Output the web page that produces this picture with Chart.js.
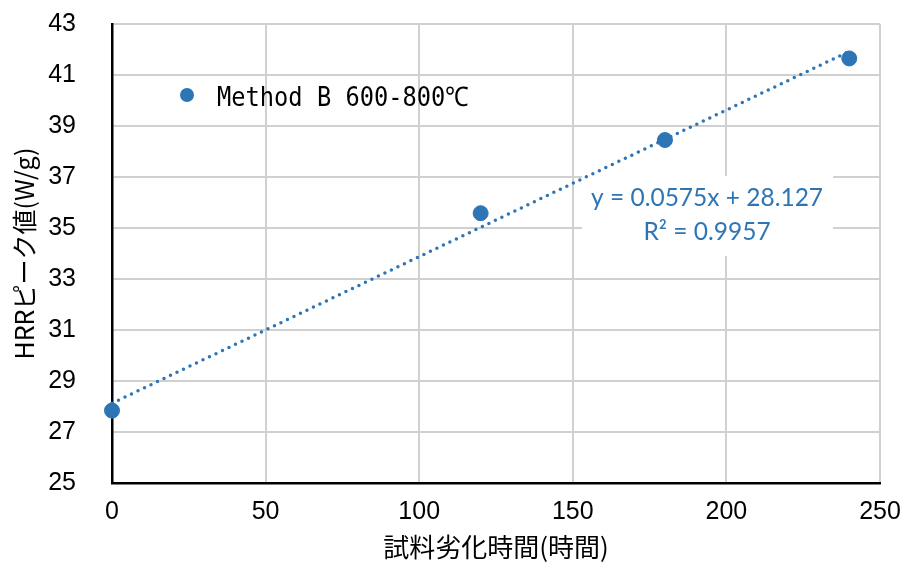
<!DOCTYPE html>
<html>
<head>
<meta charset="utf-8">
<script src="https://cdn.jsdelivr.net/npm/chart.js@4/dist/chart.umd.min.js"></script>
<style>
  html, body { margin: 0; padding: 0; background: #fff; }
  #wrap { width: 904px; height: 563px; }
</style>
</head>
<body>
<div id="wrap"><canvas id="hrrChart" width="904" height="563"></canvas></div>
<script>
// 劣化時間ごとのHRRピーク値
const hours = [0, 120, 180, 240];
const hrrPeak = [27.84, 35.58, 38.45, 41.65];
const seriesLabel = 'Method B 600-800℃';

// 近似直線 (線形)
const slope = 0.0575;
const intercept = 28.127;
const rSquared = 0.9957;

const xTicks = [0, 50, 100, 150, 200, 250];
const yTicks = [25, 27, 29, 31, 33, 35, 37, 39, 41, 43];

const blue = '#2E75B6';
const tickFont = { family: '"Liberation Sans Narrow", "Liberation Sans", sans-serif', size: 25 };
const jpFamily = '"Noto Sans CJK JP", sans-serif';

const trendData = [hours[0], hours[hours.length - 1]].map(function(x) {
    return { x: x, y: slope * x + intercept };
});

// 数式ラベルの位置 (データ座標)
const eqAt = { x: 192.4, y: 35.55 };

// 凡例と数式ラベルをプロット内に描く
const overlay = {
    id: 'overlay',
    beforeDatasetsDraw: function(chart) {
        // 数式ラベルの白い背景 (近似直線はこの上に描かれる)
        const cx = chart.scales.x.getPixelForValue(eqAt.x);
        const cy = chart.scales.y.getPixelForValue(eqAt.y);
        chart.ctx.save();
        chart.ctx.fillStyle = '#fff';
        chart.ctx.fillRect(cx - 121, cy - 38, 251, 80);
        chart.ctx.restore();
    },
    afterDatasetsDraw: function(chart) {
        const ctx = chart.ctx;
        ctx.save();

        // 凡例 (縦長の等幅文字に見せるため横方向を詰める)
        ctx.fillStyle = blue;
        ctx.beginPath();
        ctx.arc(187, 95, 7, 0, Math.PI * 2);
        ctx.fill();
        ctx.fillStyle = '#000';
        ctx.font = '27px "DejaVu Sans Mono", "Liberation Mono", monospace';
        ctx.textBaseline = 'middle';
        ctx.textAlign = 'left';
        const w = ctx.measureText(seriesLabel).width;
        ctx.save();
        ctx.translate(217, 99);
        ctx.scale(252 / w, 1);
        ctx.fillText(seriesLabel, 0, 0);
        ctx.restore();

        // 近似式
        const cx = chart.scales.x.getPixelForValue(eqAt.x);
        const cy = chart.scales.y.getPixelForValue(eqAt.y);
        ctx.fillStyle = blue;
        ctx.font = '24.5px Lato, "Open Sans", sans-serif';
        ctx.textAlign = 'center';
        ctx.fillText('y = ' + slope + 'x + ' + intercept, cx + 4, cy - 16);
        ctx.fillText('R² = ' + rSquared, cx + 4, cy + 18);
        ctx.restore();
    }
};

const ctx = document.getElementById('hrrChart').getContext('2d');
new Chart(ctx, {
    type: 'scatter',
    data: {
        datasets: [{
            label: seriesLabel,
            data: hours.map(function(h, i) { return { x: h, y: hrrPeak[i] }; }),
            backgroundColor: blue,
            borderColor: blue,
            pointRadius: 7.5,
            pointHoverRadius: 7.5,
            clip: false,
            order: 1
        }, {
            type: 'line',
            label: 'trend',
            data: trendData,
            borderColor: blue,
            borderWidth: 3.5,
            borderDash: [0, 7.2],
            borderCapStyle: 'round',
            pointRadius: 0,
            fill: false,
            clip: false,
            order: 2
        }]
    },
    options: {
        responsive: false,
        animation: false,
        layout: { padding: { top: 24, right: 24, left: 0, bottom: 0 } },
        plugins: {
            legend: { display: false },
            tooltip: { enabled: false }
        },
        scales: {
            x: {
                type: 'linear',
                min: 0,
                max: 250,
                afterBuildTicks: function(scale) {
                    scale.ticks = xTicks.map(function(v) { return { value: v }; });
                },
                afterFit: function(scale) {
                    scale.height = 80;
                    scale.paddingLeft = 0;
                    scale.paddingRight = 0;
                },
                grid: { color: '#d0d0d0', lineWidth: 2, drawTicks: false },
                border: { color: '#000', width: 2.5 },
                ticks: { font: tickFont, color: '#000', padding: 14 },
                title: {
                    display: true,
                    text: '試料劣化時間(時間)',
                    font: { family: jpFamily, size: 26 },
                    color: '#000',
                    padding: { top: 4, bottom: 0 }
                }
            },
            y: {
                type: 'linear',
                min: 25,
                max: 43,
                afterBuildTicks: function(scale) {
                    scale.ticks = yTicks.map(function(v) { return { value: v }; });
                },
                afterFit: function(scale) {
                    scale.width = 112;
                    scale.paddingTop = 0;
                    scale.paddingBottom = 0;
                },
                grid: { color: '#d0d0d0', lineWidth: 2, drawTicks: false },
                border: { color: '#000', width: 2.5 },
                ticks: { font: tickFont, color: '#000', padding: 36 },
                title: {
                    display: true,
                    text: 'HRRピーク値(W/g)',
                    font: { family: jpFamily, size: 25 },
                    color: '#000',
                    padding: { top: 9, bottom: 0 }
                }
            }
        }
    },
    plugins: [overlay]
});
</script>
</body>
</html>
